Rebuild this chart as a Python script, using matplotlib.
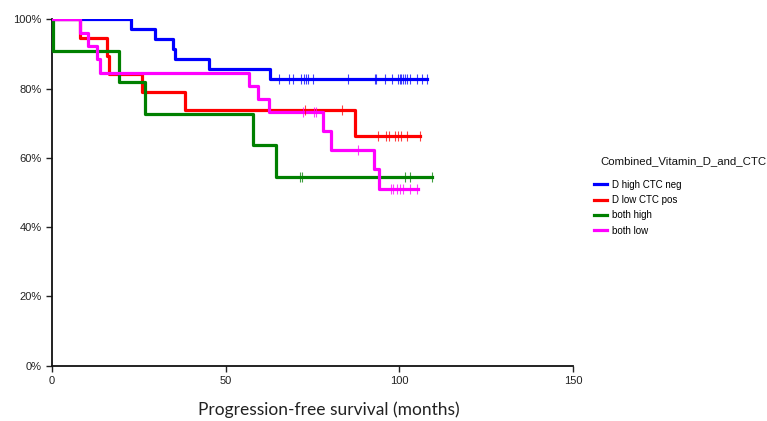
import matplotlib
matplotlib.use("Agg")
from matplotlib import pyplot as plt
import numpy as np

plt.rcParams['font.family'] = ['Liberation Sans', 'DejaVu Sans']

# step curves: event times (months) and survival (%) after each drop
blue_times = [22.8, 29.7, 34.8, 35.5, 45.1, 62.7]
blue_surv = [97.1, 94.3, 91.4, 88.6, 85.7, 82.9]
blue_end = 107.9
blue_cens = [65.3, 68.2, 69.3, 71.8, 72.6, 73.1, 73.7, 75.2, 85.2, 92.9, 93.2,
             95.8, 97.8, 99.7, 100.1, 100.6, 101.1, 101.6, 102.1, 103.0, 105.1,
             106.4, 107.9]

red_times = [8.0, 15.8, 16.3, 26.0, 38.2, 87.2]
red_surv = [94.7, 89.5, 84.2, 78.9, 73.7, 66.3]
red_end = 106.1
red_cens = [72.9, 83.6, 93.9, 96.3, 97.1, 98.9, 99.7, 100.4, 102.2, 106.1]

green_times = [0.2, 19.2, 26.7, 57.9, 64.6]
green_surv = [90.9, 81.8, 72.7, 63.6, 54.5]
green_end = 109.5
green_cens = [71.5, 72.0, 101.6, 103.0, 109.5]

pink_times = [8.2, 10.3, 13.0, 13.7, 56.7, 59.3, 62.5, 78.0, 80.3, 92.7, 94.2]
pink_surv = [96.2, 92.3, 88.5, 84.6, 80.8, 76.9, 73.1, 67.8, 62.4, 56.9, 51.1]
pink_end = 105.4
pink_cens = [72.3, 75.4, 76.1, 88.1, 97.5, 98.2, 99.2, 100.1, 101.1, 103.0, 105.1]

names = ["D high CTC neg", "D low CTC pos", "both high", "both low"]
colors = ["#0000ff", "#ff0000", "#008000", "#ff00ff"]

xticks = [0, 50, 100, 150]
yticks = [0, 20, 40, 60, 80, 100]
ylabels = ["0%", "20%", "40%", "60%", "80%", "100%"]

fig = plt.figure(figsize=(7.67, 4.21), dpi=100)
ax = fig.add_axes([0.0678, 0.1318, 0.6792, 0.8222])

groups = [
    (blue_times, blue_surv, blue_end, blue_cens),
    (red_times, red_surv, red_end, red_cens),
    (green_times, green_surv, green_end, green_cens),
    (pink_times, pink_surv, pink_end, pink_cens),
]

for (times, surv, end, cens), name, col in zip(groups, names, colors):
    x = np.array([0] + times + [end])
    y = np.array([100] + surv + [surv[-1]])
    ax.step(x, y, where="post", color=col, lw=2.3, label=name, zorder=3)
    idx = np.searchsorted(x, cens, side="right") - 1
    ax.plot(cens, y[idx], linestyle="none", marker="|", color=col,
            markersize=7.5, markeredgewidth=0.8, alpha=0.75, zorder=4)

ax.set_xlim(0, 150)
ax.set_ylim(0, 100)
ax.set_xticks(xticks)
ax.set_yticks(yticks)
ax.set_yticklabels(ylabels)
ax.tick_params(labelsize=8, length=4, width=1, colors="#222222")
for side in ["top", "right"]:
    ax.spines[side].set_visible(False)
for side in ["left", "bottom"]:
    ax.spines[side].set_linewidth(1.3)
    ax.spines[side].set_color("#111111")

ax.set_xlabel("Progression-free survival (months)", fontsize=12.5,
              family=["Lato", "DejaVu Sans"], color="#222222")
ax.xaxis.set_label_coords(0.532, -0.105)

fig.legend(loc="upper left", bbox_to_anchor=(0.763, 0.594),
           frameon=False, fontsize=7, handlelength=1.3, handletextpad=0.6,
           labelspacing=0.55)
fig.text(600 / 767, 1 - 161 / 421, "Combined_Vitamin_D_and_CTC", fontsize=8.2,
         ha="left", va="center", color="#111111")

fig.savefig("out.png", dpi=100)
